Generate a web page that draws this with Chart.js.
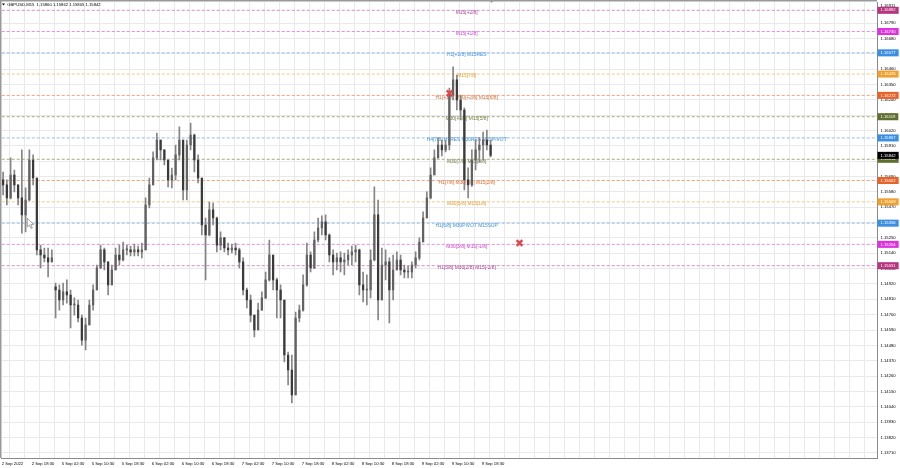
<!DOCTYPE html>
<html><head><meta charset="utf-8">
<script src="https://cdn.jsdelivr.net/npm/chart.js@4/dist/chart.umd.min.js"></script>
<style>html,body{margin:0;padding:0;background:#fff;overflow:hidden}#wrap{width:900px;height:468px;position:relative}</style>
</head><body><div id="wrap"><canvas id="c" width="900" height="468"></canvas></div>
<script>
// ---------- data ----------
const symbolTitle = 'GBPUSD,M15  1.15860 1.15862 1.15805 1.15842';
const timeLabels = ['2 Sep 2022','2 Sep 18:30','5 Sep 02:30','5 Sep 10:30','5 Sep 18:30','6 Sep 02:30','6 Sep 10:30','6 Sep 18:30','7 Sep 02:30','7 Sep 10:30','7 Sep 18:30','8 Sep 02:30','8 Sep 10:30','8 Sep 18:30','9 Sep 02:30','9 Sep 10:30','9 Sep 18:30'];
const priceTicks = [1.13710,1.13820,1.13930,1.14040,1.14150,1.14260,1.14370,1.14480,1.14590,1.14700,1.14810,1.14920,1.15030,1.15140,1.15250,1.15360,1.15470,1.15580,1.15690,1.15800,1.15910,1.16020,1.16130,1.16240,1.16350,1.16460,1.16570,1.16680,1.16790];
const topPrice = 1.16911;   // scale maximum label shown at the top of the price axis
// hourly candles (each = 4 M15 bars)
const opens = [1.15666,1.15630,1.15537,1.15701,1.15630,1.15537,1.15415,1.15522,1.15809,1.15680,
1.15164,1.15128,1.15107,1.15078,1.14900,1.14877,1.14805,1.14863,1.14841,1.14769,
1.14769,1.14676,1.14518,1.14626,1.14769,1.14877,1.15035,1.15164,1.15078,1.14913,
1.15020,1.15128,1.15092,1.15164,1.15164,1.15150,1.15164,1.15150,1.15164,1.15486,
1.15630,1.15824,1.15952,1.15881,1.15809,1.15666,1.15701,1.15845,1.15952,1.15594,
1.15916,1.15988,1.15809,1.15680,1.15343,1.15271,1.15451,1.15393,1.15199,1.15250,
1.15178,1.15164,1.15178,1.15164,1.15078,1.14877,1.14805,1.14697,1.14590,1.14733,
1.14820,1.14949,1.15128,1.14949,1.14877,1.14805,1.14411,1.14303,1.14124,1.14676,
1.14733,1.14913,1.15128,1.15035,1.15235,1.15321,1.15365,1.15271,1.15128,1.15078,
1.15107,1.15078,1.15092,1.15128,1.15150,1.15164,1.14913,1.14877,1.14877,1.15092,
1.15415,1.14805,1.15056,1.15078,1.14877,1.15020,1.15092,1.15020,1.15006,1.15006,
1.15056,1.15107,1.15221,1.15393,1.15537,1.15701,1.15824,1.15916,1.15881,1.15916,
1.16275,1.16383,1.16239,1.16167,1.15666,1.15630,1.15809,1.15881,1.15916,1.15952,
1.15916];
const highs = [1.15723,1.15666,1.15824,1.15737,1.15630,1.15881,1.15609,1.15881,1.15845,1.15680,
1.15199,1.15178,1.15178,1.15164,1.14927,1.14913,1.14927,1.14949,1.14877,1.14820,
1.14805,1.14697,1.14676,1.14805,1.14913,1.15056,1.15199,1.15178,1.15078,1.15056,
1.15178,1.15199,1.15221,1.15199,1.15192,1.15206,1.15192,1.15213,1.15537,1.15680,
1.15867,1.16002,1.15952,1.15881,1.15809,1.15751,1.15916,1.16046,1.15952,1.15952,
1.16074,1.15995,1.15845,1.15680,1.15393,1.15508,1.15500,1.15400,1.15293,1.15255,
1.15213,1.15206,1.15213,1.15178,1.15107,1.14891,1.14841,1.14697,1.14783,1.14863,
1.15006,1.15235,1.15128,1.14963,1.14913,1.14805,1.14432,1.14411,1.14719,1.14769,
1.14985,1.15213,1.15150,1.15293,1.15393,1.15408,1.15415,1.15280,1.15164,1.15142,
1.15150,1.15142,1.15164,1.15192,1.15199,1.15170,1.15006,1.14985,1.15164,1.15616,
1.15522,1.15178,1.15164,1.15107,1.15128,1.15150,1.15128,1.15056,1.15049,1.15078,
1.15150,1.15250,1.15437,1.15580,1.15752,1.15881,1.15967,1.15952,1.15952,1.16325,
1.16476,1.16418,1.16275,1.16182,1.15752,1.15881,1.15952,1.15967,1.16009,1.16024,
1.15952];
const lows = [1.15558,1.15486,1.15530,1.15580,1.15486,1.15285,1.15293,1.15515,1.15630,1.15128,
1.15035,1.15078,1.14970,1.15078,1.14676,1.14733,1.14769,1.14783,1.14605,1.14697,
1.14648,1.14482,1.14447,1.14626,1.14733,1.14877,1.15030,1.15020,1.14841,1.14913,
1.15020,1.15056,1.15085,1.15128,1.15121,1.15121,1.15121,1.15107,1.15164,1.15465,
1.15630,1.15809,1.15809,1.15773,1.15616,1.15609,1.15666,1.15809,1.15522,1.15522,
1.15881,1.15723,1.15644,1.15271,1.14949,1.15265,1.15343,1.15150,1.15164,1.15150,
1.15128,1.15142,1.15128,1.15035,1.14841,1.14748,1.14648,1.14540,1.14590,1.14733,
1.14815,1.14940,1.14877,1.14676,1.14676,1.14361,1.14196,1.14067,1.14124,1.14648,
1.14725,1.14905,1.15006,1.15030,1.15221,1.15271,1.15235,1.15078,1.14985,1.15020,
1.15006,1.14985,1.15056,1.15056,1.15078,1.14841,1.14791,1.14769,1.14820,1.15085,
1.14662,1.14805,1.14949,1.14640,1.14805,1.15020,1.14985,1.14963,1.14963,1.14963,
1.15035,1.15092,1.15221,1.15393,1.15530,1.15701,1.15824,1.15838,1.15867,1.15881,
1.16239,1.16167,1.16096,1.15594,1.15537,1.15620,1.15737,1.15795,1.15809,1.15881,
1.15831];
const closes = [1.15630,1.15537,1.15701,1.15630,1.15537,1.15415,1.15522,1.15809,1.15680,1.15164,
1.15128,1.15107,1.15078,1.15107,1.14877,1.14805,1.14863,1.14841,1.14769,1.14769,
1.14676,1.14518,1.14626,1.14769,1.14877,1.15035,1.15164,1.15078,1.14913,1.15020,
1.15128,1.15092,1.15164,1.15164,1.15150,1.15164,1.15150,1.15164,1.15486,1.15630,
1.15824,1.15952,1.15881,1.15809,1.15666,1.15701,1.15845,1.15952,1.15594,1.15916,
1.15988,1.15809,1.15680,1.15343,1.15271,1.15451,1.15393,1.15199,1.15250,1.15178,
1.15164,1.15178,1.15164,1.15078,1.14877,1.14805,1.14697,1.14590,1.14733,1.14820,
1.14949,1.15128,1.14949,1.14877,1.14805,1.14411,1.14303,1.14124,1.14676,1.14733,
1.14913,1.15128,1.15035,1.15235,1.15321,1.15365,1.15271,1.15128,1.15078,1.15107,
1.15078,1.15092,1.15128,1.15150,1.15164,1.14913,1.14877,1.14877,1.15092,1.15415,
1.14805,1.15056,1.15078,1.14877,1.15020,1.15092,1.15020,1.15006,1.15006,1.15056,
1.15107,1.15221,1.15393,1.15537,1.15701,1.15824,1.15916,1.15881,1.15916,1.16275,
1.16383,1.16239,1.16167,1.15666,1.15630,1.15809,1.15881,1.15916,1.15952,1.15916,
1.15842];
const levelValues = [1.16882,1.16730,1.16577,1.16425,1.16272,1.16119,1.15967,1.15814,1.15662,1.15509,1.15356,1.15204,1.15051];
const levelNames = ['M15[+2/8]','M15[+1/8]','H1[+2/8] M15RES','M15[7/8]','H1[+1/8] M30[+2/8] M15[6/8]','M30[+1/8] M15[5/8]','H4[7/8] H1RES M30RES M15PIVOT','M30[7/8] M15[3/8]','H1[7/8] M30[6/8] M15[2/8]','M30[5/8] M15[1/8]','H1[6/8] M30PIVOT M15SUP','M30[3/8] M15[-1/8]','H1[5/8] M30[2/8] M15[-2/8]'];
const lastPrice = 1.15842;
const signalBars = [477.7, 552.3];      // M15 bar number
const signalPrices = [1.16287, 1.15214];

// ---------- styles ----------
const tagColors  = ['#b8347f','#dd33dd','#3b8fe3','#f0a030','#e8632a','#5f6f2f','#3b8fe3','#5f6f2f','#e8632a','#f0a030','#3b8fe3','#dd33dd','#b8347f'];
const lineColors = ['#d88cc0','#e88ce8','#8cbdf0','#f5c985','#f0a27e','#a3ad7e','#8cbdf0','#a3ad7e','#f0a27e','#f5c985','#8cbdf0','#e88ce8','#d88cc0'];
const textColors = ['#a83c98','#d040d0','#3a8ee0','#e39a2e','#e0682e','#6e7a40','#3a8ee0','#6e7a40','#e0682e','#e39a2e','#3a8ee0','#d040d0','#a83c98'];
const BARS_PER_CANDLE = 4, BARS_PER_GRID = 16, BARS_PER_LABEL = 32;
const X_MAX = 933.65, LABEL_BAR = 496;
const FONT = 'Liberation Sans';

const candleX = k => k * BARS_PER_CANDLE + 1.5;
const wickData = highs.map((h, k) => ({x: candleX(k), y: [lows[k], h]}));
const bodyData = opens.map((o, k) => ({x: candleX(k), y: [o, closes[k]]}));

const levelSets = levelValues.map((v, i) => ({
  type: 'line', data: [{x: 0, y: v}, {x: X_MAX, y: v}], borderColor: lineColors[i], borderWidth: 1,
  borderDash: [3, 2], pointRadius: 0, order: 5
}));

const regTicks = priceTicks.concat([topPrice]);
const tagTicks = levelValues.concat([lastPrice]);
const tagBg = tagColors.concat(['#000000']);
const nReg = regTicks.length;

const gridBars = [];
for (let b = 0; b <= X_MAX; b += BARS_PER_GRID) gridBars.push(b);

const noPad = s => { s.paddingTop = 0; s.paddingBottom = 0; s.paddingLeft = 0; s.paddingRight = 0; };

const decor = {
  id: 'decor',
  beforeDraw(chart) {
    const c = chart.ctx;
    c.save(); c.fillStyle = '#fff'; c.fillRect(0, 0, 900, 468); c.restore();
  },
  beforeDatasetsDraw(chart) {
    const {ctx, scales: {x, y}} = chart;
    ctx.save();
    ctx.font = '4.9px "' + FONT + '"';
    ctx.textAlign = 'center'; ctx.textBaseline = 'middle';
    levelValues.forEach((v, i) => {
      ctx.fillStyle = textColors[i];
      ctx.fillText(levelNames[i], x.getPixelForValue(LABEL_BAR), y.getPixelForValue(v) + 2);
    });
    ctx.restore();
  },
  afterDraw(chart) {
    const ctx = chart.ctx;
    ctx.save();
    ctx.strokeStyle = '#9a9a9a'; ctx.lineWidth = 1.5;
    ctx.beginPath(); ctx.moveTo(0.75, 0); ctx.lineTo(0.75, 458); ctx.moveTo(0, 0.75); ctx.lineTo(877, 0.75); ctx.stroke();
    ctx.fillStyle = '#000';
    ctx.beginPath(); ctx.moveTo(2, 3.5); ctx.lineTo(5, 3.5); ctx.lineTo(3.5, 5.5); ctx.closePath(); ctx.fill();
    ctx.font = '4.2px "' + FONT + '"'; ctx.textBaseline = 'middle'; ctx.textAlign = 'left';
    ctx.fillText(symbolTitle, 7.3, 5);
    ctx.fillStyle = '#a0a0a0';
    ctx.beginPath(); ctx.moveTo(489, 0.5); ctx.lineTo(494, 0.5); ctx.lineTo(491.5, 3); ctx.closePath(); ctx.fill();
    // mouse pointer left on the chart
    ctx.fillStyle = '#fff'; ctx.strokeStyle = '#8a8a8a'; ctx.lineWidth = 0.8;
    ctx.beginPath(); ctx.moveTo(27.3, 218); ctx.lineTo(27.3, 227); ctx.lineTo(29.4, 225); ctx.lineTo(31, 228.5);
    ctx.lineTo(32.3, 227.9); ctx.lineTo(30.8, 224.6); ctx.lineTo(33.5, 224.6); ctx.closePath(); ctx.fill(); ctx.stroke();
    ctx.restore();
  }
};

new Chart(document.getElementById('c'), {
  type: 'bar',
  data: {
    datasets: [
      {type: 'line', data: signalBars.map((b, i) => ({x: b, y: signalPrices[i]})), showLine: false,
       pointStyle: 'crossRot', pointRadius: 4, borderColor: '#e0474c', borderWidth: 2.4, order: 0, clip: false},
      {data: bodyData, barThickness: 1.6, minBarLength: 1, order: 1,
       backgroundColor: ctx => (closes[ctx.dataIndex] < opens[ctx.dataIndex] ? '#3a3a3a' : '#626262')},
      {data: wickData, barThickness: 1, backgroundColor: '#858585', order: 2},
      ...levelSets
    ]
  },
  options: {
    responsive: false, animation: false, devicePixelRatio: 1,
    layout: {autoPadding: false, padding: {left: 1.7, top: 2, right: 0, bottom: 0}},
    plugins: {legend: {display: false}, tooltip: {enabled: false}, title: {display: false}},
    datasets: {bar: {grouped: false}},
    scales: {
      x: {
        type: 'linear', position: 'bottom', min: 0, max: X_MAX, offset: false,
        afterBuildTicks: s => { s.ticks = gridBars.map(v => ({value: v})); },
        afterFit: s => { s.height = 10; noPad(s); },
        grid: {color: '#e9e9e9', lineWidth: 1, drawTicks: false},
        border: {display: true, color: '#8a8a8a', width: 1},
        ticks: {autoSkip: false, maxRotation: 0, minRotation: 0, align: 'start', padding: 3, color: '#000',
          font: {family: FONT, size: 4.2},
          callback: v => (v % BARS_PER_LABEL === 0 && timeLabels[v / BARS_PER_LABEL]) ? timeLabels[v / BARS_PER_LABEL] : ''}
      },
      y: {
        type: 'linear', position: 'right', min: 1.136724, max: 1.169415,
        afterBuildTicks: s => { s.ticks = regTicks.map(v => ({value: v})).concat(tagTicks.map(v => ({value: v}))); },
        afterFit: s => { s.width = 23; noPad(s); },
        grid: {drawTicks: false, lineWidth: 1,
          color: ctx => (ctx.index >= nReg - 1 ? 'rgba(0,0,0,0)' : '#e9e9e9')},
        border: {display: true, color: '#8a8a8a', width: 1},
        ticks: {autoSkip: false, crossAlign: 'near', padding: 3.5,
          font: {family: FONT, size: 4.2},
          color: ctx => (ctx.index >= nReg ? '#ffffff' : '#000000'),
          showLabelBackdrop: ctx => ctx.index >= nReg,
          backdropColor: ctx => (ctx.index >= nReg ? tagBg[ctx.index - nReg] : 'rgba(0,0,0,0)'),
          backdropPadding: {left: 3, right: 3, top: 1, bottom: 1},
          callback: v => v.toFixed(5)}
      }
    }
  },
  plugins: [decor]
});
</script></body></html>
